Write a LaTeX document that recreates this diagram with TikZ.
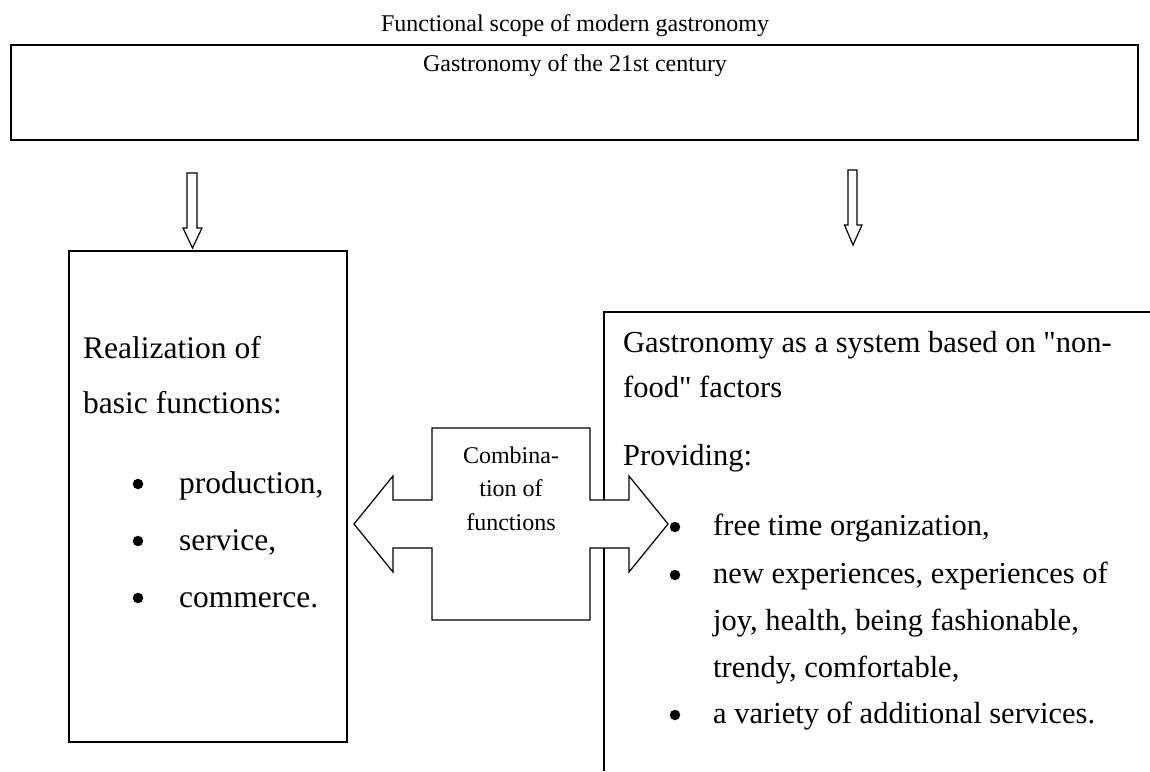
\documentclass[tikz,border=0pt]{standalone}
\usepackage{fontspec}
\setmainfont{Liberation Serif}[Ligatures=TeXOff]
\begin{document}
\begin{tikzpicture}[x=1pt,y=-1pt,
  box/.style={draw, line width=1.9pt, inner sep=0pt, anchor=north west},
  titletext/.style={font=\fontsize{24}{30}\selectfont, inner sep=0pt, anchor=base},
  lefttext/.style={font=\fontsize{31.5}{36}\selectfont, anchor=base west, inner sep=0pt},
  righttext/.style={font=\fontsize{30.5}{36}\selectfont, anchor=base west, inner sep=0pt},
  bulletdot/.style={circle, fill=black, draw=none, inner sep=0pt, minimum size=10.5pt},
  blockarrow/.style={draw, line width=1.2pt, fill=white, line join=miter},
  smalltext/.style={font=\fontsize{24}{34}\selectfont, align=center, inner sep=0pt, anchor=base}]
\useasboundingbox (0,0) rectangle (1150,771);

% title
\node[titletext] (title) at (575,31) {Functional scope of modern gastronomy};

% top box
\node[box, minimum width=1127pt, minimum height=95pt] (topbox) at (10,44) {};
\node[titletext] (toptext) at (575,71) {Gastronomy of the 21st century};

% left box
\node[box, minimum width=278pt, minimum height=491pt] (lbox) at (68,250) {};

% down arrows
\coordinate (lt) at (192.5,248);
\coordinate (rt) at (853,245);
\draw[blockarrow, shift={(lt)}] (-5.5,-75) -- (4.5,-75) -- (4.5,-20) -- (9.5,-20) -- (0,0) -- (-9.5,-20) -- (-5.5,-20) -- cycle;
\draw[blockarrow, shift={(rt)}] (-5,-75) -- (4,-75) -- (4,-20) -- (9,-20) -- (0,0) -- (-8.5,-20) -- (-5,-20) -- cycle;

% right box (open to the right and bottom)
\coordinate (rtop) at (1150,312);
\coordinate (rcorner) at (604,312);
\coordinate (rbottom) at (604,771);
\draw[line width=1.9pt] (rtop) -- (rcorner) -- (rbottom);

% double arrow
\draw[blockarrow] (354,524) -- (393,476) -- (393,500) -- (432,500) -- (432,428) -- (590,428)
  -- (590,500) -- (629,500) -- (629,476) -- (668,524) -- (629,572) -- (629,548) -- (590,548)
  -- (590,620) -- (432,620) -- (432,548) -- (393,548) -- (393,572) -- cycle;
\node[smalltext] (comb1) at (511,463) {Combina-};
\node[smalltext] (comb2) at (511,496) {tion of};
\node[smalltext] (comb3) at (511,530) {functions};

% left text
\node[lefttext] (l1) at (83,358) {Realization of};
\node[lefttext] (l2) at (83,413) {basic functions:};
\node[bulletdot] (lb1) at (138,484) {};
\node[lefttext] (lt1) at (179,493) {production,};
\node[bulletdot] (lb2) at (138,541) {};
\node[lefttext] (lt2) at (179,550) {service,};
\node[bulletdot] (lb3) at (138,598) {};
\node[lefttext] (lt3) at (179,607) {commerce.};

% right text
\node[righttext] (r1) at (623,352) {Gastronomy as a system based on "non-};
\node[righttext] (r2) at (623,397) {food" factors};
\node[righttext] (r3) at (623,465) {Providing:};
\node[bulletdot] (rb1) at (675,527) {};
\node[righttext] (rt1) at (713,535) {free time organization,};
\node[bulletdot] (rb2) at (675,575) {};
\node[righttext] (rt2) at (713,583) {new experiences, experiences of};
\node[righttext] (rt3) at (713,630) {joy, health, being fashionable,};
\node[righttext] (rt4) at (713,677) {trendy, comfortable,};
\node[bulletdot] (rb3) at (675,715) {};
\node[righttext] (rt5) at (713,723) {a variety of additional services.};
\end{tikzpicture}
\end{document}
